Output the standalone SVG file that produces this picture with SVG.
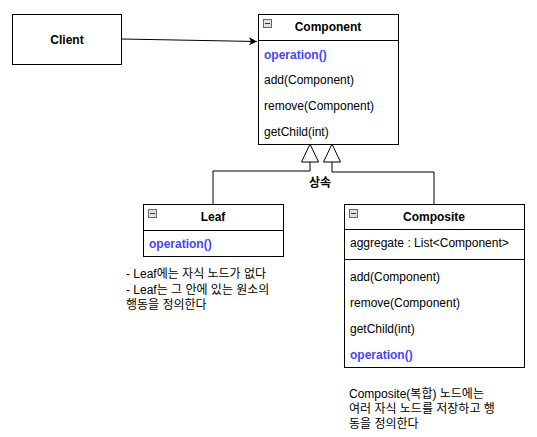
<svg xmlns="http://www.w3.org/2000/svg" width="537" height="437" viewBox="0 0 537 437">
<style>
.box{fill:#fff;stroke:#000;stroke-width:1}
.ln{fill:none;stroke:#000;stroke-width:1}
.t{font-family:"Liberation Sans",Arial,"Noto Sans CJK KR",sans-serif;font-size:12px;fill:#000}
.b{font-weight:bold}
.op{font-weight:bold;fill:#4444ff}
.c{text-anchor:middle}
.ic{fill:#e0e0e0;stroke:#666;stroke-width:1}
</style>
<defs>
<marker id="arr" markerWidth="10" markerHeight="10" refX="8" refY="4" orient="auto" markerUnits="userSpaceOnUse">
<path d="M0,0 L8,4 L0,8 L2,4 Z" fill="#000"/>
</marker>
<g id="icon"><rect class="ic" x="0.5" y="0.5" width="8" height="8"/><line x1="2" y1="4.5" x2="7" y2="4.5" stroke="#333"/></g>
</defs>
<g id="connectors">
<line class="ln" x1="122" y1="39" x2="257" y2="41.5" marker-end="url(#arr)"/>
<polyline class="ln" points="310,162 310,171 213,171 213,204"/>
<polygon class="box" points="310,144 301.5,162 318.5,162"/>
<polyline class="ln" points="332,162 332,172 434,172 434,204"/>
<polygon class="box" points="332,144 323.5,162 340.5,162"/>
<text class="t b c" x="320" y="187">상속</text>
</g>
<g id="client">
<rect class="box" x="12.5" y="14.5" width="109" height="50"/>
<text class="t b c" x="67" y="43.5">Client</text>
</g>
<g id="component">
<rect class="box" x="258.5" y="14.5" width="140" height="130"/>
<line class="ln" x1="258.5" y1="40.5" x2="398.5" y2="40.5"/>
<use href="#icon" x="263" y="19"/>
<text class="t b c" x="328" y="31">Component</text>
<text class="t op" x="264" y="58.5">operation()</text>
<text class="t" x="264" y="83.5">add(Component)</text>
<text class="t" x="264" y="109.5">remove(Component)</text>
<text class="t" x="264" y="135.5">getChild(int)</text>
</g>
<g id="leaf">
<rect class="box" x="143.5" y="204.5" width="140" height="52"/>
<line class="ln" x1="143.5" y1="230.5" x2="283.5" y2="230.5"/>
<use href="#icon" x="148" y="209"/>
<text class="t b c" x="213" y="221">Leaf</text>
<text class="t op" x="149" y="248">operation()</text>
</g>
<g id="composite">
<rect class="box" x="344.5" y="204.5" width="180" height="163"/>
<line class="ln" x1="344.5" y1="229.5" x2="524.5" y2="229.5"/>
<line class="ln" x1="344.5" y1="259.5" x2="524.5" y2="259.5"/>
<use href="#icon" x="349" y="209"/>
<text class="t b c" x="434" y="221">Composite</text>
<text class="t" x="350" y="247">aggregate : List&lt;Component&gt;</text>
<text class="t" x="350" y="281">add(Component)</text>
<text class="t" x="350" y="307">remove(Component)</text>
<text class="t" x="350" y="333">getChild(int)</text>
<text class="t op" x="350" y="359">operation()</text>
</g>
<g id="leaf-note">
<text class="t" x="126" y="278">- Leaf에는 자식 노드가 없다</text>
<text class="t" x="126" y="294">- Leaf는 그 안에 있는 원소의</text>
<text class="t" x="126" y="309">행동을 정의한다</text>
</g>
<g id="composite-note">
<text class="t" x="349" y="398">Composite(복합) 노드에는</text>
<text class="t" x="349" y="413">여러 자식 노드를 저장하고 행</text>
<text class="t" x="349" y="428">동을 정의한다</text>
</g>
</svg>
